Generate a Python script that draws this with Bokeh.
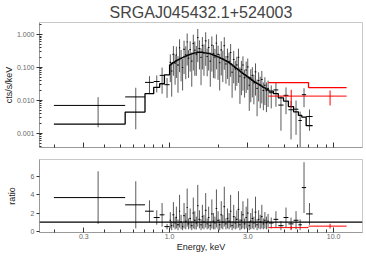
import numpy as np
from bokeh.plotting import figure
from bokeh.layouts import column
from bokeh.models import FixedTicker, PrintfTickFormatter, Span, Range1d
from bokeh.embed import file_html
from bokeh.resources import INLINE

title_text = "SRGAJ045432.1+524003"
x_title = "Energy, keV"

# ---- black spectrum (bin edges in keV) ----
edges = [0.197, 0.536, 0.708, 0.80, 0.87, 0.93,
         1.00, 1.02, 1.04, 1.07, 1.09, 1.11, 1.14, 1.16, 1.19, 1.21,
         1.24, 1.27, 1.29, 1.32, 1.35, 1.38, 1.41, 1.44, 1.47, 1.50,
         1.54, 1.57, 1.60, 1.64, 1.68, 1.71, 1.75, 1.79, 1.83, 1.87,
         1.91, 1.95, 2.00, 2.04, 2.09, 2.13, 2.18, 2.23, 2.28, 2.33,
         2.38, 2.43, 2.49, 2.54, 2.60, 2.66, 2.71, 2.77, 2.83, 2.90,
         2.96, 3.03, 3.09, 3.16, 3.23, 3.30, 3.38, 3.45, 3.53, 3.61,
         3.69, 3.77, 3.85, 3.94, 4.03,
         4.30, 4.60, 4.95, 5.30, 5.70, 6.10, 6.40, 6.80, 7.45]

model = [0.0019, 0.0044, 0.016, 0.025, 0.032, 0.060,
         0.12, 0.13, 0.14, 0.15, 0.16, 0.17, 0.18, 0.19, 0.20, 0.21,
         0.22, 0.23, 0.24, 0.25, 0.26, 0.27, 0.28, 0.28, 0.29, 0.29,
         0.29, 0.29, 0.28, 0.28, 0.27, 0.27, 0.26, 0.25, 0.24, 0.23,
         0.22, 0.21, 0.20, 0.19, 0.18, 0.17, 0.16, 0.15, 0.14, 0.13,
         0.12, 0.11, 0.10, 0.092, 0.085, 0.078, 0.072, 0.066, 0.061, 0.056,
         0.052, 0.048, 0.044, 0.041, 0.038, 0.035, 0.033, 0.031, 0.029, 0.027,
         0.025, 0.024, 0.022, 0.021,
         0.019, 0.016, 0.012, 0.0095, 0.0065, 0.0045, 0.0035, 0.0031, 0.0017]

ratio = [3.7, 2.9, 2.2, 1.5, 1.8, 0.5,
         1.2, 0.6, 1.8, 0.9, 1.5, 0.7, 2.2, 1.0, 0.5, 1.7,
         1.1, 2.6, 0.8, 1.4, 0.6, 2.0, 1.2, 0.9, 2.8, 1.3,
         0.7, 1.6, 1.0, 2.3, 0.8, 1.5, 0.6, 1.9, 1.1, 0.9,
         2.5, 1.2, 0.7, 1.8, 1.0, 2.7, 0.8, 1.4, 1.1, 2.2,
         0.6, 1.6, 0.9, 1.3, 2.4, 0.7, 1.2, 1.8, 0.8, 1.5,
         2.0, 0.6, 1.1, 1.4, 0.9, 2.1, 0.7, 1.3, 1.0, 1.6,
         0.8, 1.2, 0.9, 1.1,
         0.9, 1.3, 0.6, 1.5, 0.8, 1.2, 0.7, 4.8, 1.9]

ratio_err = [2.9, 2.6, 1.2, 0.8, 1.3, 0.3,
             0.9, 0.5, 1.4, 0.7, 1.2, 0.6, 1.8, 0.8, 0.4, 1.4,
             0.9, 2.1, 0.6, 1.1, 0.5, 1.7, 1.0, 0.7, 2.3, 1.0,
             0.6, 1.3, 0.8, 1.9, 0.6, 1.2, 0.5, 1.6, 0.9, 0.7,
             2.1, 1.0, 0.6, 1.5, 0.8, 2.2, 0.6, 1.1, 0.9, 1.8,
             0.5, 1.3, 0.7, 1.0, 2.0, 0.6, 1.0, 1.5, 0.6, 1.2,
             1.6, 0.5, 0.9, 1.1, 0.7, 1.7, 0.6, 1.0, 0.8, 1.3,
             0.6, 0.9, 0.7, 0.8,
             0.6, 0.9, 0.5, 1.1, 0.7, 1.0, 0.6, 2.8, 1.2]

# ---- red spectrum ----
red_edges = [4.0, 7.03, 12.0]
red_model = [0.0348, 0.0245]
red_data = [0.0135, 0.0135]
red_err = [0.0075, 0.0065]

x_ticks = [0.3, 1.0, 3.0, 10.0]
x_minor = [0.2, 0.4, 0.5, 0.6, 0.7, 0.8, 0.9, 2, 4, 5, 6, 7, 8, 9]
y_ticks = [0.001, 0.01, 0.1, 1.0]
y_minor = [0.0004, 0.0005, 0.0006, 0.0007, 0.0008, 0.0009,
           0.002, 0.003, 0.004, 0.005, 0.006, 0.007, 0.008, 0.009,
           0.02, 0.03, 0.04, 0.05, 0.06, 0.07, 0.08, 0.09,
           0.2, 0.3, 0.4, 0.5, 0.6, 0.7, 0.8, 0.9, 2.0]
ratio_ticks = [0, 2, 4, 6]

# ---- derived quantities ----
e = np.array(edges)
lo, hi = e[:-1], e[1:]
ctr = (lo + hi) / 2
m = np.array(model)
r = np.array(ratio)
sr = np.array(ratio_err)
d = m * r
s = m * sr
step_x = np.repeat(e, 2)[1:-1]
step_y = np.repeat(m, 2)

re = np.array(red_edges)
rlo, rhi = re[:-1], re[1:]
rctr = (rlo + rhi) / 2
rm = np.array(red_model)
rd = np.array(red_data)
rs = np.array(red_err)
rstep_x = np.repeat(re, 2)[1:-1]
rstep_y = np.repeat(rm, 2)
rr = rd / rm
rrs = rs / rm

FONT = "Liberation Sans"
XR = (0.161, 15.0)
W = 366


def style_axes(p):
    p.outline_line_color = "#c8c8c8"
    p.xgrid.visible = False
    p.ygrid.visible = False
    for ax in (p.xaxis[0], p.yaxis[0]):
        ax.axis_line_color = "#999999"
        ax.major_tick_line_color = "#333333"
        ax.minor_tick_line_color = "#333333"
        ax.major_label_text_font = FONT
        ax.major_label_text_font_size = "7px"
        ax.major_label_text_color = "#666666"
        ax.axis_label_text_font = FONT
        ax.axis_label_text_font_size = "9px"
        ax.axis_label_text_font_style = "normal"
        ax.axis_label_text_color = "#222222"
    p.xaxis.ticker = FixedTicker(ticks=x_ticks, minor_ticks=x_minor)
    p.xaxis.formatter = PrintfTickFormatter(format="%.1f")
    p.xaxis.major_tick_in = 5
    p.xaxis.major_tick_out = 0
    p.xaxis.minor_tick_in = 3
    p.xaxis.minor_tick_out = 0


p1 = figure(width=W, height=158, x_axis_type="log", y_axis_type="log",
            x_range=Range1d(*XR), y_range=Range1d(3.7e-4, 2.33),
            output_backend="svg", toolbar_location=None,
            title=title_text, min_border_left=37, min_border_right=4,
            min_border_top=0, min_border_bottom=11)
style_axes(p1)
p1.title.text_font = FONT
p1.title.text_font_size = "16px"
p1.title.text_font_style = "normal"
p1.title.align = "center"
p1.title.standoff = 3
p1.title.offset = 0
p1.xaxis.major_label_text_color = None
p1.xaxis.major_label_standoff = 0
p1.yaxis.ticker = FixedTicker(ticks=y_ticks, minor_ticks=y_minor)
p1.yaxis.formatter = PrintfTickFormatter(format="%.3f")
p1.yaxis.major_tick_in = 3
p1.yaxis.major_tick_out = 3
p1.yaxis.minor_tick_in = 2
p1.yaxis.minor_tick_out = 0
p1.yaxis.major_label_standoff = 2
p1.yaxis.axis_label = "cts/s/keV"
p1.yaxis.axis_label_standoff = 0

lower = np.where(d - s > 0, d - s, 1e-6)
p1.segment(ctr, lower, ctr, d + s, line_color="black", line_width=1, line_alpha=0.65)
p1.segment(lo, d, hi, d, line_color="black", line_width=1)
p1.line(step_x, step_y, line_color="black", line_width=1.3)

p1.segment(rctr, rd - rs, rctr, rd + rs, line_color="red", line_width=1)
p1.segment(rlo, rd, rhi, rd, line_color="red", line_width=1)
p1.line(rstep_x, rstep_y, line_color="red", line_width=1.3)

p2 = figure(width=W, height=96, x_axis_type="log",
            x_range=p1.x_range, y_range=Range1d(-0.15, 7.9),
            output_backend="svg", toolbar_location=None,
            min_border_left=37, min_border_right=4, min_border_top=1,
            min_border_bottom=0)
style_axes(p2)
p2.xaxis.major_label_standoff = 1
p2.xaxis.axis_label = x_title
p2.xaxis.axis_label_standoff = 0
p2.yaxis.ticker = FixedTicker(ticks=ratio_ticks)
p2.yaxis.major_tick_in = 0
p2.yaxis.major_tick_out = 3
p2.yaxis.minor_tick_out = 0
p2.yaxis.major_label_standoff = 2
p2.yaxis.axis_label = "ratio"
p2.yaxis.axis_label_standoff = 11

p2.segment(ctr, r - sr, ctr, r + sr, line_color="black", line_width=1, line_alpha=0.65)
p2.segment(lo, r, hi, r, line_color="black", line_width=1)
p2.segment(rctr, rr - rrs, rctr, rr + rrs, line_color="red", line_width=1)
p2.segment(rlo, rr, rhi, rr, line_color="red", line_width=1)
p2.add_layout(Span(location=1, dimension="width", line_color="black", line_width=1.3))

layout = column(p1, p2, spacing=0)
open("out.html", "w").write(file_html(layout, INLINE))
